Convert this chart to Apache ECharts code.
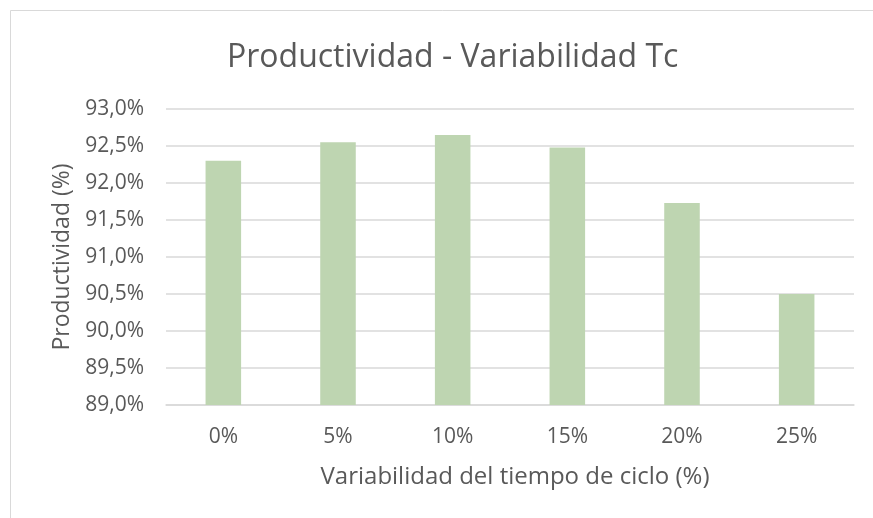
<!DOCTYPE html>
<html>
<head>
<meta charset="utf-8">
<script src="https://cdn.jsdelivr.net/npm/echarts@6/dist/echarts.min.js"></script>
<style>
  html, body { margin: 0; padding: 0; background: #fff; }
  #main { width: 873px; height: 518px; }
</style>
</head>
<body>
<div id="main"></div>
<script>
// datos
const categorias = ['0%', '5%', '10%', '15%', '20%', '25%']
const productividad = [92.30, 92.55, 92.65, 92.48, 91.73, 90.50]
const yMin = 89.0
const yMax = 93.0
const yPaso = 0.5

const myChart = echarts.init(document.getElementById('main'))
const textoGris = '#595959'
const fuente = '"Open Sans", "Noto Sans", sans-serif'

const option = {
  backgroundColor: '#fff',
  animation: false,
  title: {
    text: 'Productividad - Variabilidad Tc',
    left: 222,
    top: 37,
    textStyle: { color: textoGris, fontSize: 32, fontWeight: 'normal', fontFamily: fuente }
  },
  // marco del grafico (solo se ven los bordes superior e izquierdo)
  graphic: [{
    type: 'rect',
    shape: { x: 10.5, y: 10.5, width: 1000, height: 1000 },
    style: { fill: 'none', stroke: '#d9d9d9', lineWidth: 1 },
    silent: true
  }],
  grid: { left: 166, right: 19, top: 109, bottom: 113 },
  xAxis: {
    type: 'category',
    data: categorias,
    name: 'Variabilidad del tiempo de ciclo (%)',
    nameLocation: 'middle',
    nameGap: 60,
    nameTextStyle: { color: textoGris, fontSize: 24, fontFamily: fuente, padding: [0, 0, 0, 10] },
    axisLine: { lineStyle: { color: '#d9d9d9', width: 1.5 } },
    axisTick: { show: false },
    axisLabel: { color: textoGris, fontSize: 21, margin: 22, fontFamily: fuente }
  },
  yAxis: {
    type: 'value',
    min: yMin,
    max: yMax,
    interval: yPaso,
    name: 'Productividad (%)',
    nameLocation: 'middle',
    nameGap: 92,
    nameTextStyle: { color: textoGris, fontSize: 23, fontFamily: fuente },
    axisLine: { show: false },
    axisTick: { show: false },
    splitLine: { lineStyle: { color: '#d9d9d9', width: 1.5 } },
    axisLabel: {
      color: textoGris,
      fontSize: 21,
      margin: 22,
      fontFamily: fuente,
      formatter: v => v.toFixed(1).replace('.', ',') + '%'
    }
  },
  series: [{
    type: 'bar',
    data: productividad,
    barWidth: '31%',
    itemStyle: { color: '#bed5b1' }
  }]
}

myChart.setOption(option)
</script>
</body>
</html>
